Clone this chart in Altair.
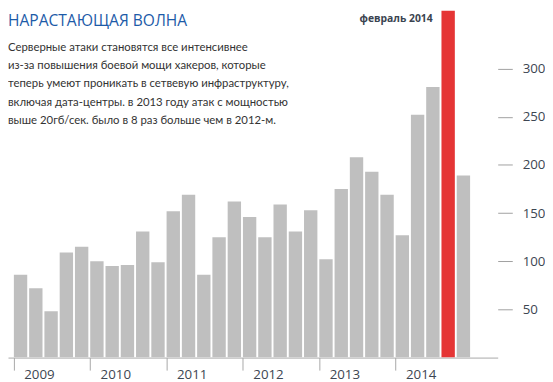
import altair as alt
import pandas as pd

# ---- data ----
years = ["2009", "2010", "2011", "2012", "2013", "2014"]
values = [
    86, 72, 48, 109, 115,      # 2009
    100, 95, 96, 131, 99,      # 2010
    152, 169, 86, 125, 162,    # 2011
    146, 125, 159, 131, 153,   # 2012
    102, 175, 208, 193, 169,   # 2013
    127, 252, 281, 400, 189,   # 2014 (февраль 2014 exceeds the frame)
]
highlight_index = 28
y_ticks = [50, 100, 150, 200, 250, 300]
title_text = "НАРАСТАЮЩАЯ ВОЛНА"
note_text = "февраль 2014"
body_lines = [
    "Серверные атаки становятся все интенсивнее",
    "из-за повышения боевой мощи хакеров, которые",
    "теперь умеют проникать в сетвевую инфраструктуру,",
    "включая дата-центры. в 2013 году атак с мощностью",
    "выше 20гб/сек. было в 8 раз больше чем в 2012-м.",
]

bars_per_year = 5
df = pd.DataFrame({
    "i": list(range(len(values))),
    "value": values,
    "hl": ["yes" if k == highlight_index else "no" for k in range(len(values))],
})
year_starts = [k * bars_per_year for k in range(len(years))]
label_expr = "{" + ",".join(f"'{s}':'{y}'" for s, y in zip(year_starts, years)) + "}[datum.value]"

FONT = "Open Sans"
AXIS_TXT = "#3d4652"

x_scale = alt.Scale(domain=[-0.062, 31.36], nice=False, zero=False)
y_scale = alt.Scale(domain=[0, 360], nice=False)

bars = alt.Chart(df).transform_calculate(
    i2="datum.i + 0.875", base="0"
).mark_bar(clip=True, stroke=None, orient="vertical").encode(
    x=alt.X("i:Q", scale=x_scale, title=None,
            axis=alt.Axis(values=year_starts, labelExpr=label_expr, grid=False,
                          domainColor="#a8a8a8", tickColor="#a8a8a8",
                          tickSize=12.7, labelAlign="left", labelOffset=10,
                          labelBaseline="top", labelPadding=-2,
                          labelFontSize=13.5, labelFont=FONT, labelColor=AXIS_TXT)),
    x2="i2:Q",
    y=alt.Y("value:Q", scale=y_scale, title=None,
            axis=alt.Axis(orient="right", values=y_ticks, grid=False, domain=False,
                          tickColor="#a0a0a0", tickSize=14.8, labelPadding=10,
                          labelFontSize=13.5, labelFont=FONT, labelColor=AXIS_TXT)),
    y2="base:Q",
    color=alt.Color("hl:N", scale=alt.Scale(domain=["no", "yes"], range=["#bfbfbf", "#e53535"]),
                    legend=None),
)

text_df = pd.DataFrame({"t": [0]})
title = alt.Chart(text_df).mark_text(
    text=title_text, align="left", baseline="alphabetic", font=FONT,
    fontSize=15.8, color="#1d5ba8"
).encode(x=alt.value(0), y=alt.value(15))

note = alt.Chart(text_df).mark_text(
    text=note_text, align="right", baseline="alphabetic", font=FONT,
    fontSize=10.5, fontWeight="bold", color="#3a4450"
).encode(x=alt.value(431), y=alt.value(11))

body = alt.Chart(text_df).mark_text(
    text="\n".join(body_lines), lineBreak="\n", lineHeight=18.6,
    align="left", baseline="alphabetic", font="Lato", fontSize=11.5, color="#333333"
).encode(x=alt.value(0), y=alt.value(40.6))

chart = alt.layer(bars, title, body, note).properties(
    width=497, height=352, padding=0, background="white"
).configure_view(stroke=None)

chart.save("out.html", embed_options={"renderer": "svg", "actions": False})
